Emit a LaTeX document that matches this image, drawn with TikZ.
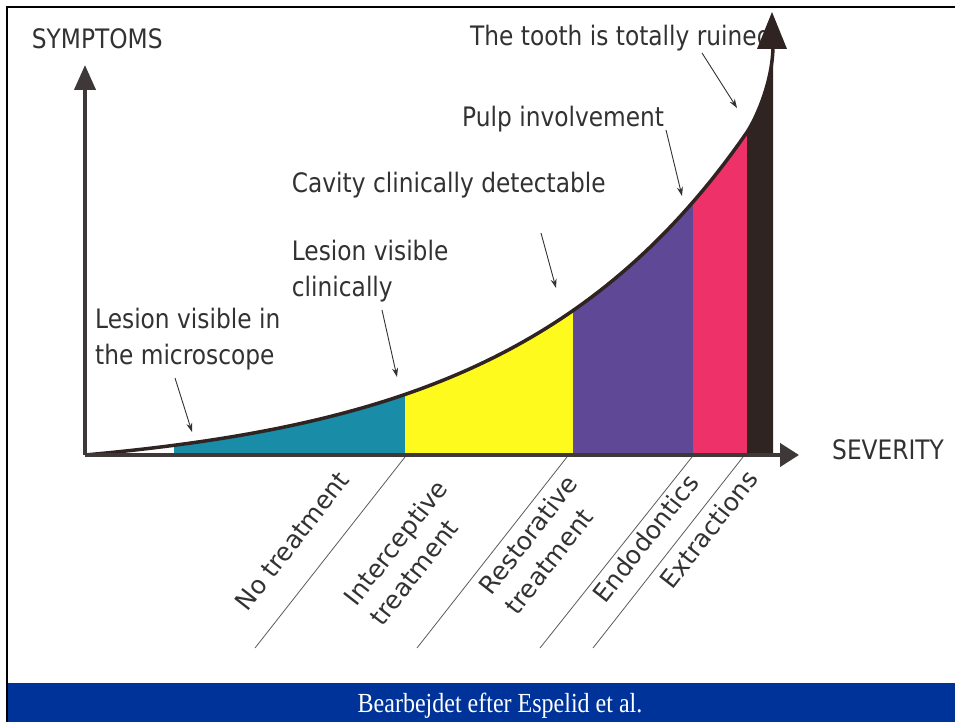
\documentclass[tikz,border=0pt]{standalone}
\usepackage{fontspec}
\setmainfont{DejaVu Sans}
\newfontfamily\labfont{DejaVu Sans}
\newfontfamily\credfont{Liberation Serif}
\usetikzlibrary{arrows.meta}
\definecolor{cteal}{RGB}{25,140,168}
\definecolor{cyellow}{RGB}{255,250,30}
\definecolor{cpurple}{RGB}{95,72,150}
\definecolor{cpink}{RGB}{238,50,105}
\definecolor{cbar}{RGB}{48,36,34}
\definecolor{caxis}{RGB}{62,56,56}
\definecolor{ctext}{RGB}{50,50,50}
\definecolor{cband}{RGB}{0,51,153}
\tikzset{
  txt/.style={font=\labfont\fontsize{23.3}{31}\selectfont, text=ctext, inner sep=0pt, yscale=1.15},
  rlab/.style={font=\labfont\fontsize{25}{33}\selectfont, text=ctext, inner sep=0pt, align=left, anchor=south west, rotate=52},
  pointer/.style={draw=ctext, line width=0.9pt, -{Stealth[length=9pt,width=6pt]}},
  sepline/.style={draw=ctext!80, line width=0.8pt},
  axisline/.style={draw=caxis, line width=4pt},
  curveline/.style={draw=cbar, line width=3.5pt}
}
\begin{document}
\begin{tikzpicture}[x=1pt,y=1pt]
\useasboundingbox (0,0) rectangle (955,722);
\fill[white] (0,0) rectangle (955,722);
% frame and credit band
\fill[cband] (8,0) rectangle (955,39);
\draw[black, line width=2.5pt] (955,715) -- (7,715) -- (7,0);
\node[txt, font=\credfont\fontsize{24}{28}\selectfont, text=white, anchor=base] (cred) at (500,9) {Bearbejdet efter Espelid et al.};
% top label (partly covered by the arrow)
\node[txt, anchor=base west] (tooth) at (470,676) {The tooth is totally ruined};
% coloured strips under the curve
\foreach \a/\b/\c in {174/405/cteal, 405/573/cyellow, 573/693/cpurple, 693/747/cpink, 747/776/cbar}{
  \begin{scope}
    \clip (\a,262) rectangle (\b,720);
    \fill[\c] (85,267) -- plot[domain=85:747,samples=90] (\x,{267+21.4*(exp(0.0042*(\x-85))-1)}) .. controls (757,605) and (773,642) .. (773,677) -- (773,267) -- cycle;
  \end{scope}
}
\draw[curveline] plot[domain=85:747,samples=90] (\x,{267+21.4*(exp(0.0042*(\x-85))-1)}) .. controls (757,605) and (773,642) .. (773,677);
\fill[cbar] (757,673) -- (772,710) -- (787,673) -- cycle;
% axes
\coordinate (O) at (85,267);
\coordinate (ytip) at (85,657);
\coordinate (xtip) at (799,267);
\draw[axisline, -{Triangle[length=25pt,width=21pt]}] (O) -- (ytip);
\draw[axisline, -{Triangle[length=19pt,width=23pt]}] (O) -- (xtip);
% axis labels
\node[txt, anchor=base west] (symp) at (31.7,673) {SYMPTOMS};
\node[txt, anchor=base west] (sev) at (832,262) {SEVERITY};
% stage labels
\node[txt, anchor=base west] (pulp) at (462,595) {Pulp involvement};
\node[txt, anchor=base west] (cavity) at (291.7,529) {Cavity clinically detectable};
\node[txt, anchor=base west] (lesclinA) at (291.7,461) {Lesion visible};
\node[txt, anchor=base west] (lesclinB) at (291.7,425) {clinically};
\node[txt, anchor=base west] (lesmicA) at (95,393) {Lesion visible in};
\node[txt, anchor=base west] (lesmicB) at (95,357) {the microscope};
% pointers
\coordinate (p1s) at (175,344); \coordinate (p1e) at (192,290);
\coordinate (p2s) at (382,412); \coordinate (p2e) at (397,345);
\coordinate (p3s) at (541,489); \coordinate (p3e) at (556,434);
\coordinate (p4s) at (666,592); \coordinate (p4e) at (682,526);
\coordinate (p5s) at (702,669); \coordinate (p5e) at (737,614);
\draw[pointer] (p1s) -- (p1e);
\draw[pointer] (p2s) -- (p2e);
\draw[pointer] (p3s) -- (p3e);
\draw[pointer] (p4s) -- (p4e);
\draw[pointer] (p5s) -- (p5e);
% separator lines under treatment labels
\coordinate (s1a) at (405,265); \coordinate (s1b) at (255,74);
\coordinate (s2a) at (567,265); \coordinate (s2b) at (417,74);
\coordinate (s3a) at (692,265); \coordinate (s3b) at (540,74);
\coordinate (s4a) at (743,265); \coordinate (s4b) at (593,74);
\draw[sepline] (s1a) -- (s1b);
\draw[sepline] (s2a) -- (s2b);
\draw[sepline] (s3a) -- (s3b);
\draw[sepline] (s4a) -- (s4b);
% treatment labels
\node[rlab] (lab1) at (248,109) {No treatment};
\node[rlab] (lab2) at (383,94) {Interceptive\\treatment};
\node[rlab] (lab3) at (518,105) {Restorative\\treatment};
\node[rlab] (lab4) at (606,117) {Endodontics};
\node[rlab] (lab5) at (673,131) {Extractions};
\end{tikzpicture}
\end{document}
